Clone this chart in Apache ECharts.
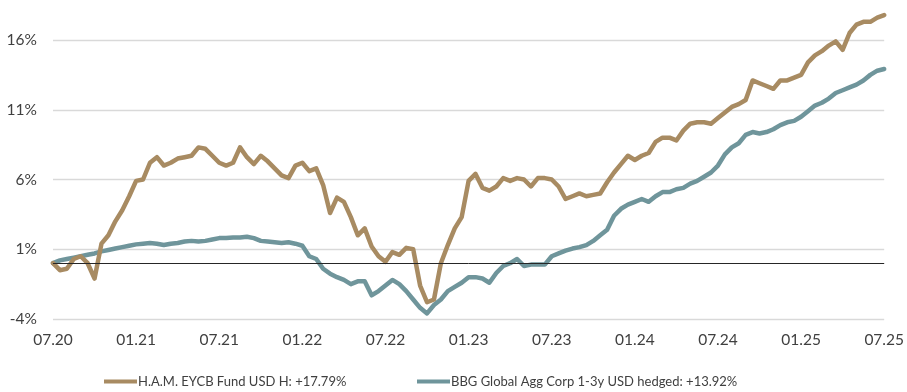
<!DOCTYPE html>
<html>
<head>
<meta charset="utf-8">
<script src="https://cdn.jsdelivr.net/npm/echarts@6/dist/echarts.min.js"></script>
<style>
html,body{margin:0;padding:0;background:#fff;}
#chart{width:907px;height:392px;}
</style>
</head>
<body>
<div id="chart"></div>
<script>
// Semi-monthly observation dates, 07.2020 .. 07.2025
var categories = [];
for (var y = 2020; y <= 2025; y++) {
  for (var m = 1; m <= 12; m++) {
    if (y === 2020 && m < 7) continue;
    if (y === 2025 && m > 7) continue;
    var mm = (m < 10 ? '0' : '') + m;
    categories.push(y + '-' + mm + '-01');
    if (!(y === 2025 && m === 7)) categories.push(y + '-' + mm + '-16');
  }
}

var fundName = 'H.A.M. EYCB Fund USD H: +17.79%';
var benchName = 'BBG Global Agg Corp 1-3y USD hedged: +13.92%';

var fundValues = [
  0.0, -0.5, -0.4, 0.3, 0.5, 0.0, -1.1, 1.4, 2.0, 3.0,
  3.8, 4.8, 5.9, 6.0, 7.2, 7.6, 7.0, 7.2, 7.5, 7.6,
  7.7, 8.3, 8.2, 7.7, 7.2, 7.0, 7.2, 8.3, 7.6, 7.1,
  7.7, 7.3, 6.8, 6.3, 6.1, 7.0, 7.2, 6.6, 6.8, 5.6,
  3.6, 4.7, 4.4, 3.3, 2.0, 2.5, 1.2, 0.5, 0.1, 0.8,
  0.6, 1.1, 1.0, -1.6, -2.8, -2.6, 0.0, 1.3, 2.5, 3.3,
  5.9, 6.4, 5.4, 5.2, 5.5, 6.1, 5.9, 6.1, 6.0, 5.5,
  6.1, 6.1, 6.0, 5.5, 4.6, 4.8, 5.0, 4.8, 4.9, 5.0,
  5.8, 6.5, 7.1, 7.7, 7.4, 7.7, 7.9, 8.7, 9.0, 9.0,
  8.8, 9.5, 10.0, 10.1, 10.1, 10.0, 10.4, 10.8, 11.2, 11.4,
  11.7, 13.1, 12.9, 12.7, 12.5, 13.1, 13.1, 13.3, 13.5, 14.4,
  14.9, 15.2, 15.6, 15.9, 15.3, 16.5, 17.1, 17.3, 17.3, 17.6,
  17.79
];

var benchValues = [
  0.0, 0.2, 0.3, 0.4, 0.5, 0.6, 0.7, 0.85, 0.95, 1.05,
  1.15, 1.25, 1.35, 1.4, 1.45, 1.4, 1.3, 1.4, 1.45, 1.55,
  1.6, 1.55, 1.6, 1.7, 1.8, 1.8, 1.85, 1.85, 1.9, 1.8,
  1.6, 1.55, 1.5, 1.45, 1.5, 1.4, 1.25, 0.5, 0.3, -0.4,
  -0.75, -1.0, -1.2, -1.5, -1.3, -1.3, -2.3, -2.0, -1.6, -1.2,
  -1.5, -2.0, -2.6, -3.2, -3.6, -3.0, -2.6, -2.0, -1.7, -1.4,
  -1.0, -1.0, -1.1, -1.4, -0.7, -0.2, 0.0, 0.3, -0.2, -0.1,
  -0.1, -0.1, 0.5, 0.7, 0.9, 1.05, 1.15, 1.3, 1.6, 2.0,
  2.4, 3.4, 3.9, 4.2, 4.4, 4.6, 4.4, 4.8, 5.1, 5.1,
  5.3, 5.4, 5.7, 5.9, 6.2, 6.5, 7.0, 7.8, 8.3, 8.6,
  9.2, 9.4, 9.3, 9.4, 9.6, 9.9, 10.1, 10.2, 10.5, 10.9,
  11.3, 11.5, 11.8, 12.2, 12.4, 12.6, 12.8, 13.1, 13.5, 13.8,
  13.92
];

var yMin = -4, yMax = 16, yStep = 5;

var fundColor = '#A88B62';
var benchColor = '#6F959B';
var textColor = '#404040';
var fontFamily = 'Lato, "Liberation Sans", sans-serif';

var chart = echarts.init(document.getElementById('chart'));
chart.setOption({
  animation: false,
  backgroundColor: '#ffffff',
  grid: { left: 53, right: 17, top: 40, bottom: 73, containLabel: false },
  legend: [
    {
      data: [fundName], left: 99, top: 370, itemWidth: 33, itemHeight: 4,
      icon: 'rect', itemGap: 0,
      textStyle: { color: textColor, fontSize: 13, fontFamily: fontFamily, padding: [0, 0, 0, -4] }
    },
    {
      data: [benchName], left: 412, top: 370, itemWidth: 33, itemHeight: 4,
      icon: 'rect', itemGap: 0,
      textStyle: { color: textColor, fontSize: 13, fontFamily: fontFamily, padding: [0, 0, 0, -4] }
    }
  ],
  xAxis: {
    type: 'category',
    data: categories,
    boundaryGap: false,
    axisLine: { show: false },
    axisTick: { show: false },
    splitLine: { show: false },
    axisLabel: {
      interval: 11,
      margin: 13,
      color: textColor,
      fontSize: 15.5,
      fontFamily: fontFamily,
      formatter: function (v) { return v.substr(5, 2) + '.' + v.substr(2, 2); }
    }
  },
  yAxis: {
    type: 'value',
    min: yMin, max: yMax, interval: yStep,
    axisLine: { show: false },
    axisTick: { show: false },
    axisLabel: {
      margin: 16, color: textColor, fontSize: 15.5, fontFamily: fontFamily,
      formatter: function (v) { return v + '%'; }
    },
    splitLine: { show: true, lineStyle: { color: '#D9D9D9', width: 1.3 } }
  },
  series: [
    {
      name: benchName, type: 'line', data: benchValues, showSymbol: false, symbol: 'none',
      clip: false, z: 2,
      itemStyle: { color: benchColor },
      lineStyle: { color: benchColor, width: 4.5, join: 'round', cap: 'round' },
      markLine: {
        silent: true, symbol: 'none', label: { show: false },
        lineStyle: { color: '#262626', width: 1, type: 'solid' },
        data: [{ yAxis: 0 }]
      }
    },
    {
      name: fundName, type: 'line', data: fundValues, showSymbol: false, symbol: 'none',
      clip: false, z: 3,
      itemStyle: { color: fundColor },
      lineStyle: { color: fundColor, width: 4.5, join: 'round', cap: 'round' }
    }
  ]
});
</script>
</body>
</html>
